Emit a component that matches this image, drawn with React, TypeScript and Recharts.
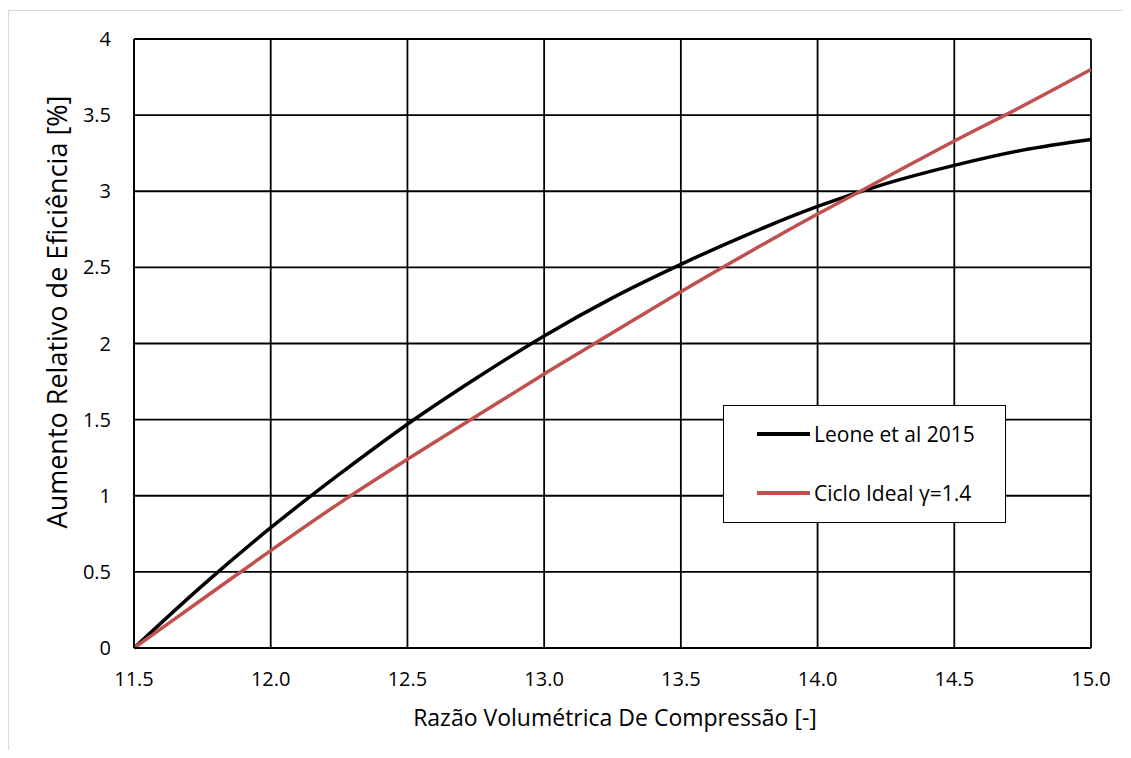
import React from "react";
import { LineChart, Line, XAxis, YAxis, CartesianGrid, Legend } from "recharts";

const xValues = [11.5, 11.75, 12.0, 12.25, 12.5, 12.75, 13.0, 13.25, 13.5, 13.75, 14.0, 14.25, 14.5, 14.75, 15.0];
const leoneValues = [0, 0.41, 0.79, 1.14, 1.47, 1.77, 2.05, 2.3, 2.52, 2.72, 2.9, 3.05, 3.17, 3.27, 3.34];
const idealValues = [0, 0.32, 0.64, 0.95, 1.24, 1.52, 1.8, 2.07, 2.34, 2.6, 2.85, 3.09, 3.33, 3.56, 3.8];
const xTicks = [11.5, 12.0, 12.5, 13.0, 13.5, 14.0, 14.5, 15.0];
const yTicks = [0, 0.5, 1, 1.5, 2, 2.5, 3, 3.5, 4];
const seriesNames = ["Leone et al 2015", "Ciclo Ideal γ=1.4"];
const seriesColors = ["#000000", "#C0504D"];
const xTitle = "Razão Volumétrica De Compressão [-]";
const yTitle = "Aumento Relativo de Eficiência [%]";

const data = xValues.map((x, i) => ({ x, leone: leoneValues[i], ideal: idealValues[i] }));

const FONT = "'Open Sans', sans-serif";
const TICK_FS = 20;

const LegendBox = () => (
  <div
    style={{
      width: 281,
      height: 116,
      border: "1.8px solid #000",
      background: "#fff",
      fontFamily: FONT,
      fontSize: 21,
      color: "#000",
      position: "relative",
    }}
  >
    {seriesNames.map((n, i) => (
      <div
        key={n}
        style={{
          position: "absolute",
          left: 33,
          top: i === 0 ? 15 : 74,
          display: "flex",
          alignItems: "center",
          whiteSpace: "nowrap",
          lineHeight: "26px",
        }}
      >
        <div style={{ width: 53, height: 3.5, background: seriesColors[i], marginRight: 4 }} />
        <span>{n}</span>
      </div>
    ))}
  </div>
);

export default function App() {
  return (
    <div style={{ position: "relative", width: 1123, height: 742, overflow: "hidden", background: "#fff" }}>
      <div
        style={{
          position: "absolute",
          left: 0,
          top: 2,
          width: 1300,
          height: 900,
          borderTop: "1.5px solid #d9d9d9",
          borderLeft: "1.5px solid #d9d9d9",
        }}
      />
      <div style={{ position: "absolute", left: 0, top: 0 }}>
        <LineChart width={1123} height={742} data={data} margin={{ top: 31, right: 40, left: 0, bottom: 42 }}>
          <CartesianGrid stroke="#000" strokeWidth={1.8} />
          <XAxis
            dataKey="x"
            type="number"
            domain={[11.5, 15]}
            ticks={xTicks}
            tickFormatter={(v: number) => v.toFixed(1)}
            tickLine={false}
            tickSize={0}
            tickMargin={24}
            axisLine={{ stroke: "#000", strokeWidth: 1.8 }}
            height={60}
            tick={{ fill: "#000", fontSize: TICK_FS, fontFamily: FONT }}
            label={{
              content: () => (
                <text x={607} y={718} textAnchor="middle" fill="#000" fontSize={23} fontFamily={FONT}>
                  {xTitle}
                </text>
              ),
            }}
          />
          <YAxis
            type="number"
            domain={[0, 4]}
            ticks={yTicks}
            tickLine={false}
            tickSize={0}
            tickMargin={23}
            width={126}
            axisLine={{ stroke: "#000", strokeWidth: 1.8 }}
            tick={{ fill: "#000", fontSize: TICK_FS, fontFamily: FONT }}
            label={{
              content: () => (
                <text
                  x={59}
                  y={304}
                  transform="rotate(-90 59 304)"
                  textAnchor="middle"
                  fill="#000"
                  fontSize={27}
                  fontFamily={FONT}
                >
                  {yTitle}
                </text>
              ),
            }}
          />
          <Legend
            layout="vertical"
            align="center"
            verticalAlign="middle"
            content={<LegendBox />}
            wrapperStyle={{ left: 715, top: 397, width: 284, height: 119, bottom: "auto", right: "auto" }}
          />
          <Line
            type="monotone"
            dataKey="leone"
            name={seriesNames[0]}
            stroke={seriesColors[0]}
            strokeWidth={3.5}
            dot={false}
            isAnimationActive={false}
          />
          <Line
            type="monotone"
            dataKey="ideal"
            name={seriesNames[1]}
            stroke={seriesColors[1]}
            strokeWidth={3.5}
            dot={false}
            isAnimationActive={false}
          />
        </LineChart>
      </div>
    </div>
  );
}
